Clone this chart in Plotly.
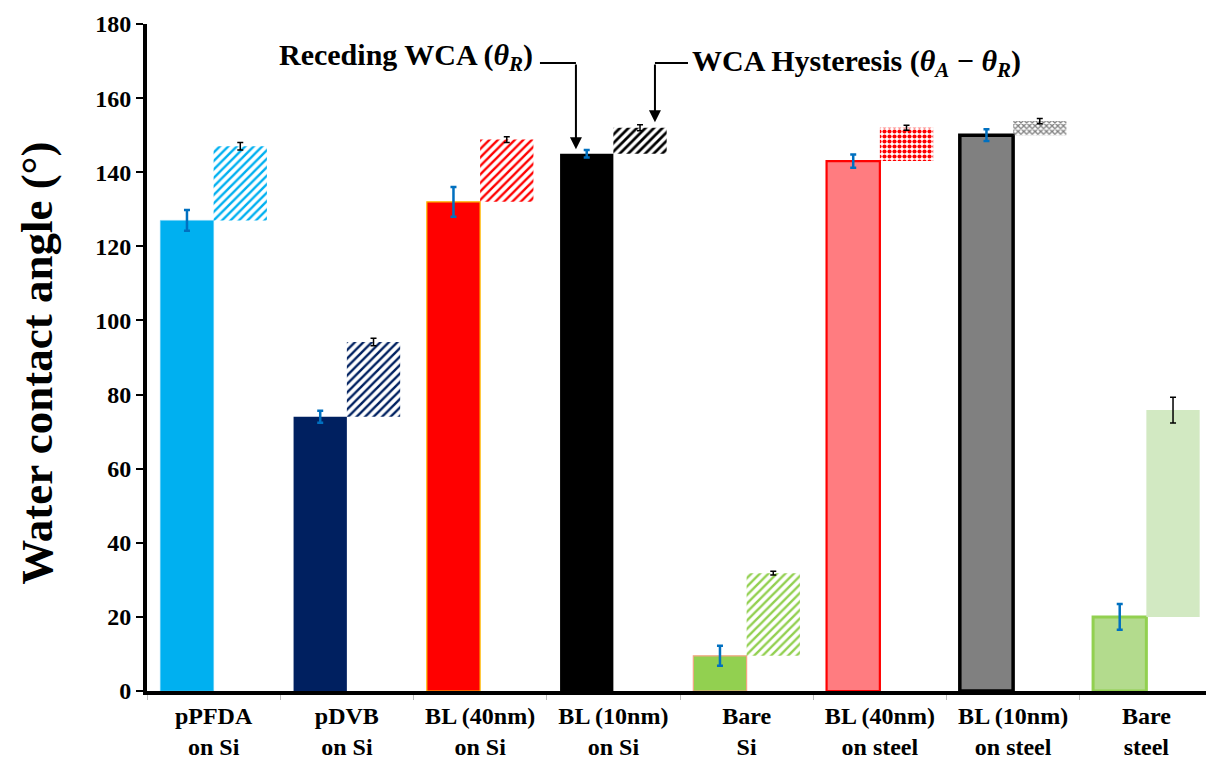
import plotly.graph_objects as go

categories = ["pPFDA<br>on Si", "pDVB<br>on Si", "BL (40nm)<br>on Si", "BL (10nm)<br>on Si",
              "Bare<br>Si", "BL (40nm)<br>on steel", "BL (10nm)<br>on steel", "Bare<br>steel"]
receding = [127, 74, 132, 145, 9.5, 143, 150, 20]
receding_err = [2.8, 1.6, 4.0, 1.0, 2.7, 1.8, 1.6, 3.5]
advancing = [147, 94.2, 148.8, 152, 31.8, 152, 153.8, 75.8]
advancing_err = [1.0, 1.0, 0.8, 0.8, 0.5, 0.7, 0.7, 3.5]
hysteresis = [a - r for a, r in zip(advancing, receding)]

rec_colors = ["#00B0F0", "#002060", "#FF0000", "#000000", "#92D050", "#FF7C80", "#808080", "#B3DB8D"]
rec_line_colors = ["#5BC8F5", "#002060", "#FFC000", "#000000", "#F4A582", "#FF0000", "#000000", "#92D050"]
rec_line_widths = [0.5, 0, 1.2, 0, 1.2, 2.2, 3.5, 3]

hys_colors = ["#00B0F0", "#002060", "#FF0000", "#000000", "#92D050", "#FF0000", "#808080", "#D2E9C2"]
hys_pat_shape = ["/", "/", "/", "/", "/", ".", "x", ""]
hys_pat_fg = ["#21B4EE", "#203864", "#FF2020", "#000000", "#A9D88A", "#FFFFFF", "#9A9A9A", "#D2E9C2"]
hys_pat_bg = ["#FFFFFF", "#FFFFFF", "#FFFFFF", "#FFFFFF", "#FFFFFF", "#FF0000", "#FFFFFF", "#D2E9C2"]
hys_pat_size = [6, 6, 6, 6, 6, 5, 4, 5]
hys_pat_sol = [0.4, 0.4, 0.4, 0.45, 0.4, 0.55, 0.55, 0.3]

FONT = "Liberation Serif"

fig = go.Figure()
fig.add_trace(go.Bar(
    x=categories, y=receding, name="Receding WCA",
    marker=dict(color=rec_colors,
                line=dict(color=rec_line_colors, width=rec_line_widths)),
    error_y=dict(type="data", array=receding_err, color="#0070C0", thickness=2.5, width=3),
))
fig.add_trace(go.Bar(
    x=categories, y=hysteresis, base=receding, name="WCA Hysteresis",
    marker=dict(color=hys_colors, line=dict(width=0),
                pattern=dict(shape=hys_pat_shape, fgcolor=hys_pat_fg, bgcolor=hys_pat_bg,
                             size=hys_pat_size, solidity=hys_pat_sol, fillmode="replace")),
    error_y=dict(type="data", array=advancing_err, color="#000000", thickness=1.5, width=3),
))

fig.update_layout(
    width=1206, height=760,
    margin=dict(l=147, r=0, t=24, b=69),
    paper_bgcolor="white", plot_bgcolor="white",
    barmode="group", bargap=0.2, bargroupgap=0,
    showlegend=False,
    font=dict(family=FONT, color="black"),
)
fig.update_xaxes(
    range=[-0.5, 7.4475], tickson="boundaries", ticks="outside", ticklen=5, tickcolor="#BBBBBB",
    showline=True, linecolor="black", linewidth=4, showgrid=False,
    tickfont=dict(family=FONT, size=24, weight="bold", color="black"),
)
fig.update_yaxes(
    range=[0, 180], tickvals=list(range(0, 181, 20)), ticks="outside", ticklen=7, tickwidth=2,
    tickcolor="black", showline=True, linecolor="black", linewidth=4, showgrid=False,
    zeroline=False,
    tickfont=dict(family=FONT, size=24, weight="bold", color="black"),
)

# y-axis title
fig.add_annotation(x=-0.104, y=0.492, xref="paper", yref="paper", xanchor="center", yanchor="middle",
                   text="Water contact angle (°)", textangle=-90, showarrow=False,
                   font=dict(family=FONT, size=45, weight="bold", color="black"))

# annotations
fig.add_annotation(x=2.412, y=171, xref="x", yref="y", xanchor="right", yanchor="middle",
                   text="Receding WCA (<i>θ</i><sub><i>R</i></sub>)", showarrow=False,
                   font=dict(family=FONT, size=30, weight="bold", color="black"))
fig.add_annotation(x=3.575, y=169.5, xref="x", yref="y", xanchor="left", yanchor="middle",
                   text="WCA Hysteresis (<i>θ</i><sub><i>A</i></sub> − <i>θ</i><sub><i>R</i></sub>)",
                   showarrow=False,
                   font=dict(family=FONT, size=30, weight="bold", color="black"))
fig.add_shape(type="line", xref="x", yref="y", x0=2.449, x1=2.719, y0=169.5, y1=169.5,
              line=dict(color="black", width=2))
fig.add_shape(type="line", xref="x", yref="y", x0=3.312, x1=3.560, y0=169.5, y1=169.5,
              line=dict(color="black", width=2))
fig.add_annotation(x=2.719, y=146.2, ax=2.719, ay=169.5, xref="x", yref="y", axref="x", ayref="y",
                   text="", showarrow=True, arrowhead=2, arrowsize=1.2, arrowwidth=2, arrowcolor="black")
fig.add_annotation(x=3.312, y=153.5, ax=3.312, ay=169.5, xref="x", yref="y", axref="x", ayref="y",
                   text="", showarrow=True, arrowhead=2, arrowsize=1.2, arrowwidth=2, arrowcolor="black")

fig.write_html("out.html")
